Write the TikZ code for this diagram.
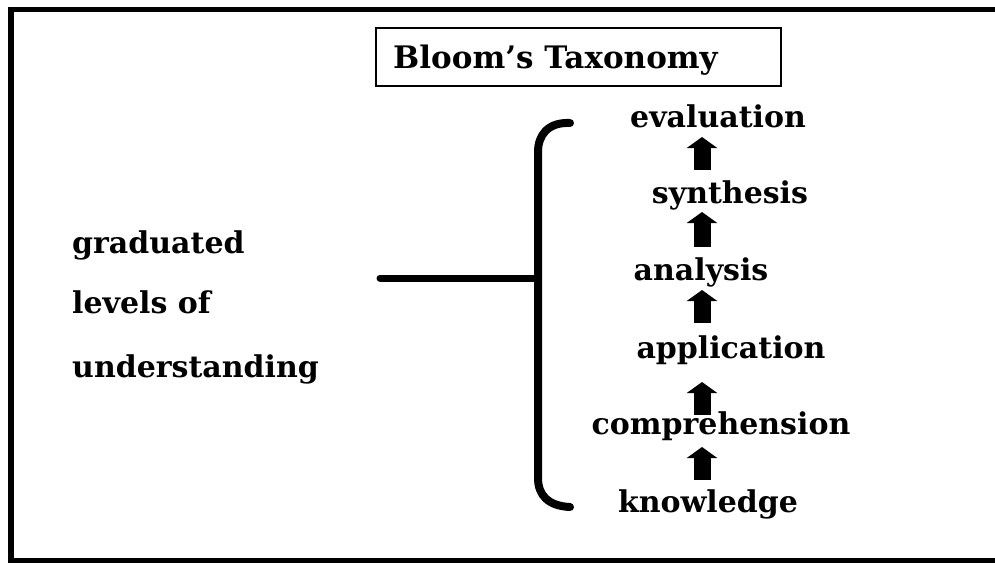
\documentclass[tikz,border=0pt]{standalone}
\usepackage{fontspec}
\setmainfont{DejaVu Serif}
\usetikzlibrary{arrows.meta}
\begin{document}
\begin{tikzpicture}[x=1pt,y=-1pt,
  level/.style={font=\bfseries\fontsize{30}{33}\selectfont, anchor=base, inner sep=0pt},
  side/.style={font=\bfseries\fontsize{30}{33}\selectfont, anchor=base west, inner sep=0pt},
  barrow/.style={line width=17pt, -{Triangle[width=30pt,length=11pt]}},
  brace/.style={line width=8pt, line cap=round}]
\useasboundingbox (0,0) rectangle (995,562);
\clip (0,0) rectangle (995,562);
\fill[white] (0,0) rectangle (995,562);
% outer frame
\draw[line width=5.5pt] (11,9.5) rectangle (1005,561);
% title
\node[draw, line width=2pt, minimum width=405pt, minimum height=58pt, inner sep=0pt] (titlebox) at (578.5,57) {};
\node[font=\bfseries\fontsize{31}{34}\selectfont, anchor=base west, inner sep=0pt] (title) at (393,68) {Bloom's Taxonomy};
% left labels
\node[side] (grad) at (72,253) {graduated};
\node[side] (lev) at (72,313) {levels of};
\node[side] (und) at (72,377) {understanding};
% levels
\node[level] (evaluation) at (718,127) {evaluation};
\node[level] (synthesis) at (730,203) {synthesis};
\node[level] (analysis) at (701,280) {analysis};
\node[level] (application) at (731,358) {application};
\node[level] (comprehension) at (721,434) {comprehension};
\node[level] (knowledge) at (708,512) {knowledge};
% bracket
\coordinate (btop) at (570,123);
\coordinate (bbot) at (570,507);
\coordinate (bmid) at (538,278);
\coordinate (stem) at (380,278);
\draw[brace] (btop) .. controls (548,122) and (538,135) .. (538,152) -- (538,478) .. controls (538,495) and (548,506) .. (bbot);
\draw[line width=7pt, line cap=round] (stem) -- (bmid);
% arrows
\coordinate (ax) at (702,0);
\draw[barrow, shorten <=33pt, shorten >=10pt] (synthesis.base -| ax) -- (evaluation.base -| ax);
\draw[barrow, shorten <=33pt, shorten >=9pt] (analysis.base -| ax) -- (synthesis.base -| ax);
\draw[barrow, shorten <=35pt, shorten >=10pt] (application.base -| ax) -- (analysis.base -| ax);
\draw[barrow, shorten <=19pt, shorten >=24pt] (comprehension.base -| ax) -- (application.base -| ax);
\draw[barrow, shorten <=32pt, shorten >=13pt] (knowledge.base -| ax) -- (comprehension.base -| ax);
\end{tikzpicture}
\end{document}
